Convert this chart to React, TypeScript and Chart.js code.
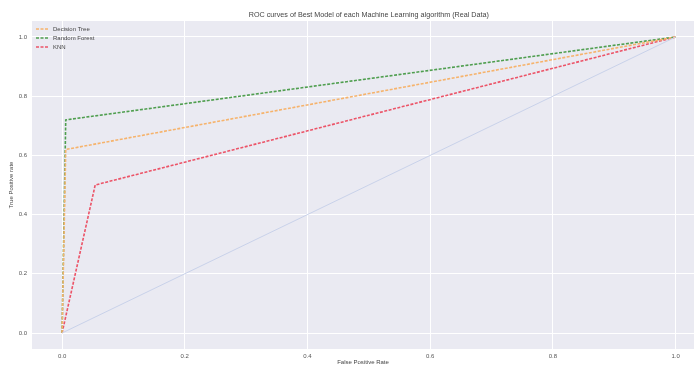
import React, { useEffect, useRef } from "react";
import { Chart, registerables } from "chart.js";

Chart.register(...registerables);

// ROC points (false positive rate, true positive rate) for each model
const seriesNames = ["Decision Tree", "Random Forest", "KNN"];
const decisionTreeFpr = [0, 0.006, 1];
const decisionTreeTpr = [0, 0.62, 1];
const randomForestFpr = [0, 0.006, 1];
const randomForestTpr = [0, 0.72, 1];
const knnFpr = [0, 0.054, 1];
const knnTpr = [0, 0.5, 1];
const chanceFpr = [0, 1];
const chanceTpr = [0, 1];
const tickValues = [0, 0.2, 0.4, 0.6, 0.8, 1.0];

const chartTitle = "ROC curves of Best Model of each Machine Learning algorithm (Real Data)";
const seriesColors = ["#f6b36c", "#4f9e4f", "#ec5468"];
const FONT = "'Liberation Sans', Arial, sans-serif";

const toPoints = (xs: number[], ys: number[]) => xs.map((x, i) => ({ x, y: ys[i] }));

// legend drawn inside the plot area, top-left
const innerLegend = {
  id: "innerLegend",
  afterDatasetsDraw(chart: any) {
    const { ctx, chartArea } = chart;
    const x0 = chartArea.left + 4;
    const y0 = chartArea.top + 8;
    ctx.save();
    seriesNames.forEach((name, i) => {
      const y = y0 + i * 9;
      ctx.strokeStyle = seriesColors[i];
      ctx.lineWidth = 1.5;
      ctx.setLineDash([3, 1.5]);
      ctx.beginPath();
      ctx.moveTo(x0, y);
      ctx.lineTo(x0 + 13, y);
      ctx.stroke();
      ctx.setLineDash([]);
      ctx.fillStyle = "#444";
      ctx.font = `6px ${FONT}`;
      ctx.textBaseline = "middle";
      ctx.textAlign = "left";
      ctx.fillText(name, x0 + 17, y);
    });
    ctx.restore();
  },
};

// seaborn-style plot background plus the figure title, centred over the full axes width
const plotBackground = {
  id: "plotBackground",
  beforeDraw(chart: any) {
    const { ctx, chartArea } = chart;
    ctx.save();
    ctx.fillStyle = "#eaeaf2";
    ctx.fillRect(chartArea.left, chartArea.top, chartArea.right - chartArea.left, chartArea.bottom - chartArea.top);
    const xScale = chart.scales.x;
    const axesCenter = (xScale.getPixelForValue(-0.05) + xScale.getPixelForValue(1.05)) / 2;
    ctx.fillStyle = "#444";
    ctx.font = `7.2px ${FONT}`;
    ctx.textAlign = "center";
    ctx.textBaseline = "middle";
    ctx.fillText(chartTitle, axesCenter, 15);
    ctx.restore();
  },
};

export default function App() {
  const canvasRef = useRef<HTMLCanvasElement | null>(null);

  useEffect(() => {
    document.body.style.margin = "0";
    const canvas = canvasRef.current;
    if (!canvas) return;

    const lineDataset = (label: string, xs: number[], ys: number[], color: string) => ({
      label,
      data: toPoints(xs, ys),
      borderColor: color,
      backgroundColor: color,
      borderWidth: 1.6,
      borderDash: [3, 1.5],
      pointRadius: 0,
      tension: 0,
      fill: false,
    });

    const chart = new Chart(canvas, {
      type: "line",
      data: {
        datasets: [
          {
            label: "chance",
            data: toPoints(chanceFpr, chanceTpr),
            borderColor: "#c9d2ea",
            borderWidth: 1,
            pointRadius: 0,
            fill: false,
          },
          lineDataset(seriesNames[0], decisionTreeFpr, decisionTreeTpr, seriesColors[0]),
          lineDataset(seriesNames[1], randomForestFpr, randomForestTpr, seriesColors[1]),
          lineDataset(seriesNames[2], knnFpr, knnTpr, seriesColors[2]),
        ],
      },
      options: {
        animation: false,
        responsive: false,
        layout: { padding: { left: 0, right: 2, top: 21, bottom: 0 } },
        plugins: {
          legend: { display: false },
          tooltip: { enabled: false },
          title: { display: false },
        },
        scales: {
          x: {
            type: "linear",
            min: -0.049,
            max: 1.03,
            afterBuildTicks: (scale: any) => {
              scale.ticks = tickValues.map((v) => ({ value: v }));
            },
            afterFit: (scale: any) => {
              scale.height = 16;
            },
            ticks: {
              color: "#555",
              font: { family: FONT, size: 6 },
              padding: 3.4,
              maxRotation: 0,
              callback: (v: any) => Number(v).toFixed(1),
            },
            grid: { color: "#ffffff", lineWidth: 1, drawTicks: false },
            border: { display: false },
            title: {
              display: true,
              text: "False Positive Rate",
              color: "#444",
              font: { family: FONT, size: 6 },
              padding: { top: 0, bottom: -1 },
            },
          },
          y: {
            type: "linear",
            min: -0.054,
            max: 1.054,
            afterBuildTicks: (scale: any) => {
              scale.ticks = tickValues.map((v) => ({ value: v }));
            },
            afterFit: (scale: any) => {
              scale.width = 32;
            },
            ticks: {
              color: "#555",
              font: { family: FONT, size: 6 },
              padding: 5,
              callback: (v: any) => Number(v).toFixed(1),
            },
            grid: { color: "#ffffff", lineWidth: 1, drawTicks: false },
            border: { display: false },
            title: {
              display: true,
              text: "True Positive rate",
              color: "#444",
              font: { family: FONT, size: 6 },
              padding: { top: 8, bottom: 0 },
            },
          },
        },
      },
      plugins: [plotBackground, innerLegend],
    });

    return () => chart.destroy();
  }, []);

  return (
    <div style={{ width: 696, height: 365, background: "#ffffff" }}>
      <canvas ref={canvasRef} width={696} height={365} style={{ display: "block" }} />
    </div>
  );
}
